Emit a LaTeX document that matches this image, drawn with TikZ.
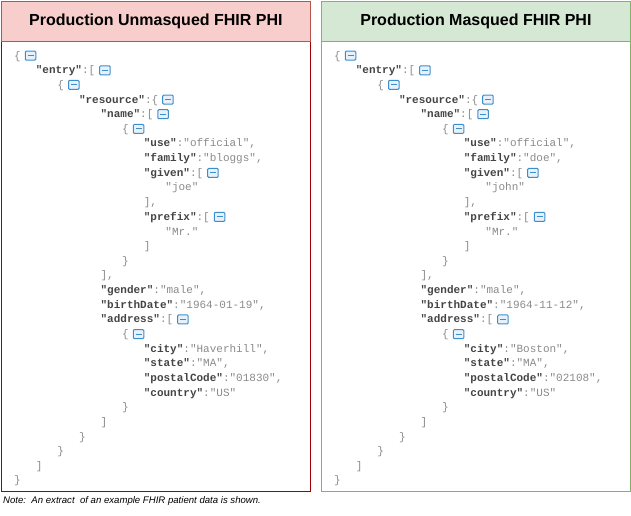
\documentclass[tikz,border=0pt]{standalone}
\usepackage{fontspec}
\setmainfont{Liberation Sans}
\setmonofont{Liberation Mono}
\definecolor{valc}{HTML}{8A8A8A}
\definecolor{keyc}{HTML}{444444}
\definecolor{icc}{HTML}{3C8DCC}
\definecolor{redh}{HTML}{F8CECC}
\definecolor{redb}{HTML}{B85450}
\definecolor{redd}{HTML}{A00000}
\definecolor{grnh}{HTML}{D5E8D4}
\definecolor{grnb}{HTML}{82B366}
\newcommand{\K}[1]{\textcolor{keyc}{\textbf{"#1"}}}
\newcommand{\ic}{\hspace{4pt}\tikz[baseline=-0.5pt]{\draw[icc,line width=1pt,fill=icc!12,rounded corners=1pt] (0,-1.5pt) rectangle (10.5pt,7.5pt); \draw[icc,line width=1pt] (2.3pt,3pt)--(8.2pt,3pt);}}
\tikzset{jl/.style={anchor=west,inner sep=0pt,font=\ttfamily\fontsize{11}{13}\selectfont,text=valc},
title/.style={font=\bfseries\fontsize{16}{19}\selectfont}}
\newcommand{\PL}[2]{%
\node[jl] (#1a) at (#2+14+21.6*0,56+14.66*0) {\{\ic};
\node[jl] (#1b) at (#2+14+21.6*1,56+14.66*1) {\K{entry}:[\ic};
\node[jl] (#1c) at (#2+14+21.6*2,56+14.66*2) {\{\ic};
\node[jl] (#1d) at (#2+14+21.6*3,56+14.66*3) {\K{resource}:\{\ic};
\node[jl] (#1e) at (#2+14+21.6*4,56+14.66*4) {\K{name}:[\ic};
\node[jl] (#1f) at (#2+14+21.6*5,56+14.66*5) {\{\ic};
}
\begin{document}
\begin{tikzpicture}[x=1pt,y=-1pt]
\useasboundingbox (0,0) rectangle (631,516);
\node[draw=redd,line width=1pt,minimum width=309,minimum height=450,anchor=north west,inner sep=0] (lbody) at (1,41) {};
\node[draw=redb,fill=redh,line width=0.8pt,minimum width=309,minimum height=40,anchor=north west,inner sep=0,title] (lhead) at (1,1) {Production Unmasqued FHIR PHI};
\node[draw=grnb,line width=1pt,minimum width=309,minimum height=450,anchor=north west,inner sep=0] (rbody) at (321,41) {};
\node[draw=grnb,fill=grnh,line width=0.8pt,minimum width=309,minimum height=40,anchor=north west,inner sep=0,title] (rhead) at (321,1) {Production Masqued FHIR PHI};
\foreach \p/\o/\fam/\giv/\bd/\city/\pc in {l/0/bloggs/joe/1964-01-19/Haverhill/01830, r/320/doe/john/1964-11-12/Boston/02108}{
\PL{\p}{\o}
\node[jl] (\p g) at (\o+14+21.6*6,56+14.66*6) {\K{use}:"official",};
\node[jl] (\p h) at (\o+14+21.6*6,56+14.66*7) {\K{family}:"\fam",};
\node[jl] (\p i) at (\o+14+21.6*6,56+14.66*8) {\K{given}:[\ic};
\node[jl] (\p j) at (\o+14+21.6*7,56+14.66*9) {"\giv"};
\node[jl] (\p k) at (\o+14+21.6*6,56+14.66*10) {],};
\node[jl] (\p l) at (\o+14+21.6*6,56+14.66*11) {\K{prefix}:[\ic};
\node[jl] (\p m) at (\o+14+21.6*7,56+14.66*12) {"Mr."};
\node[jl] (\p n) at (\o+14+21.6*6,56+14.66*13) {]};
\node[jl] (\p o) at (\o+14+21.6*5,56+14.66*14) {\}};
\node[jl] (\p p) at (\o+14+21.6*4,56+14.66*15) {],};
\node[jl] (\p q) at (\o+14+21.6*4,56+14.66*16) {\K{gender}:"male",};
\node[jl] (\p r) at (\o+14+21.6*4,56+14.66*17) {\K{birthDate}:"\bd",};
\node[jl] (\p s) at (\o+14+21.6*4,56+14.66*18) {\K{address}:[\ic};
\node[jl] (\p t) at (\o+14+21.6*5,56+14.66*19) {\{\ic};
\node[jl] (\p u) at (\o+14+21.6*6,56+14.66*20) {\K{city}:"\city",};
\node[jl] (\p v) at (\o+14+21.6*6,56+14.66*21) {\K{state}:"MA",};
\node[jl] (\p w) at (\o+14+21.6*6,56+14.66*22) {\K{postalCode}:"\pc",};
\node[jl] (\p x) at (\o+14+21.6*6,56+14.66*23) {\K{country}:"US"};
\node[jl] (\p y) at (\o+14+21.6*5,56+14.66*24) {\}};
\node[jl] (\p z) at (\o+14+21.6*4,56+14.66*25) {]};
\node[jl] (\p A) at (\o+14+21.6*3,56+14.66*26) {\}};
\node[jl] (\p B) at (\o+14+21.6*2,56+14.66*27) {\}};
\node[jl] (\p C) at (\o+14+21.6*1,56+14.66*28) {]};
\node[jl] (\p D) at (\o+14+21.6*0,56+14.66*29) {\}};
}
\node[anchor=west,inner sep=0,font=\itshape\fontsize{9.6}{11}\selectfont] (note) at (3,501) {Note:\ \ An extract\ \ of an example FHIR patient data is shown.};
\end{tikzpicture}
\end{document}
